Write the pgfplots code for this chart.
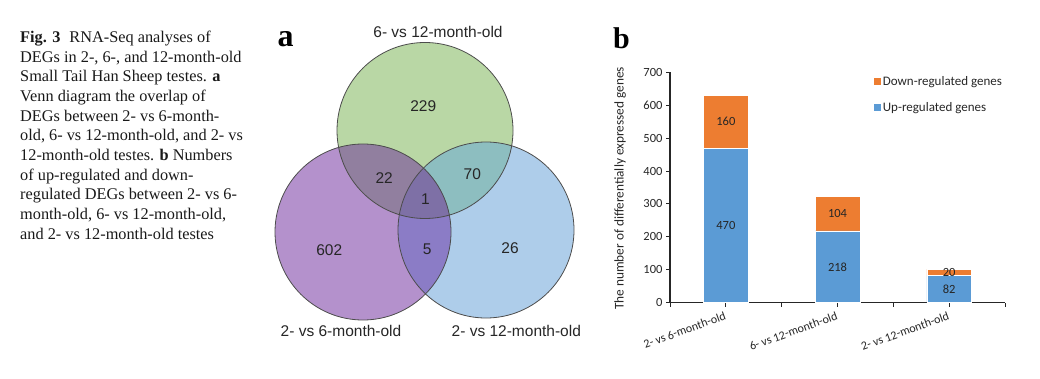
\documentclass[border=0pt]{standalone}
\usepackage{pgfplots}
\pgfplotsset{compat=1.18}
\usepackage{pgfplotstable}
\usepackage{fontspec}
\setmainfont{Liberation Serif}
\newfontfamily\vennfont{Liberation Sans}
\newfontfamily\carl{Carlito}
\definecolor{cP}{HTML}{B491CC}
\definecolor{cG}{HTML}{B9D7A5}
\definecolor{cB}{HTML}{AECDEA}
\definecolor{cPG}{HTML}{917F9F}
\definecolor{cGB}{HTML}{8DBEC0}
\definecolor{cPB}{HTML}{8B7CC6}
\definecolor{cPGB}{HTML}{7E70A6}
\definecolor{cUp}{HTML}{5B9BD5}
\definecolor{cDown}{HTML}{ED7D31}

\pgfplotstableread{
x up down
0 470 160
1 218 104
2 82 20
}\degtable

\begin{document}
\begin{tikzpicture}[x=1pt,y=1pt]
\useasboundingbox (0,0) rectangle (1040,378);
% ---------------- caption ----------------
\begin{scope}[every node/.style={anchor=base west, inner sep=0pt, font=\fontsize{16.3}{19.7}\selectfont, text=black!90}]
\node at (20,335.5) {\textbf{Fig. 3}\hspace{0.55em}RNA-Seq analyses of};
\node at (20,315.85) {DEGs in 2-, 6-, and 12-month-old};
\node at (20,296.2) {Small Tail Han Sheep testes. \textbf{a}};
\node at (20,276.55) {Venn diagram the overlap of};
\node at (20,256.9) {DEGs between 2- vs 6-month-};
\node at (20,237.25) {old, 6- vs 12-month-old, and 2- vs};
\node at (20,217.6) {12-month-old testes. \textbf{b} Numbers};
\node at (20,197.95) {of up-regulated and down-};
\node at (20,178.3) {regulated DEGs between 2- vs 6-};
\node at (20,158.65) {month-old, 6- vs 12-month-old,};
\node at (20,139) {and 2- vs 12-month-old testes};
\end{scope}
% ---------------- panel letters ----------------
\node[anchor=base west, inner sep=0pt, font=\fontsize{32}{36}\selectfont\bfseries] at (277.3,331.3) {a};
\node[anchor=base west, inner sep=0pt, font=\fontsize{30}{34}\selectfont\bfseries] at (613,329.7) {b};
% ---------------- Venn diagram ----------------
\begin{axis}[at={(260pt,0pt)}, anchor=south west, width=340pt, height=378pt, scale only axis,
  xmin=260, xmax=600, ymin=0, ymax=378, hide axis, clip=false]
\fill[cP] (axis cs:363,146) circle[radius=88];
\fill[cG] (axis cs:425,247.5) circle[radius=88];
\fill[cB] (axis cs:486,148) circle[radius=88];
\begin{scope}
\clip (axis cs:425,247.5) circle[radius=88];
\fill[cGB] (axis cs:486,148) circle[radius=88];
\end{scope}
\begin{scope}
\clip (axis cs:363,146) circle[radius=88];
\fill[cPG] (axis cs:425,247.5) circle[radius=88];
\fill[cPB] (axis cs:486,148) circle[radius=88];
\clip (axis cs:425,247.5) circle[radius=88];
\fill[cPGB] (axis cs:486,148) circle[radius=88];
\end{scope}
\draw[black!70, line width=0.8pt] (axis cs:363,146) circle[radius=88];
\draw[black!70, line width=0.8pt] (axis cs:425,247.5) circle[radius=88];
\draw[black!70, line width=0.8pt] (axis cs:486,148) circle[radius=88];
\begin{scope}[every node/.style={font=\vennfont\fontsize{15.5}{18}\selectfont, text=black!85, inner sep=0pt}]
\node at (axis cs:423.2,272.2) {229};
\node at (axis cs:384.2,199.7) {22};
\node at (axis cs:472.3,203.8) {70};
\node at (axis cs:425.5,178.5) {1};
\node at (axis cs:329.3,127.8) {602};
\node at (axis cs:427.2,128.5) {5};
\node at (axis cs:510,129.7) {26};
\node at (axis cs:438,345.7) {6- vs 12-month-old};
\node at (axis cs:341,47) {2- vs 6-month-old};
\node at (axis cs:516.3,47) {2- vs 12-month-old};
\end{scope}
\end{axis}
% ---------------- bar chart ----------------
\begin{axis}[at={(670pt,75.3pt)}, anchor=south west, width=335pt, height=230.4pt, scale only axis,
  /pgf/number format/assume math mode=true,
  ybar stacked, bar width=0.4,
  xmin=-0.5, xmax=2.5, ymin=0, ymax=700,
  ytick={0,100,...,700},
  xtick={0,1,2},
  xticklabels={2- vs 6-month-old, 6- vs 12-month-old, 2- vs 12-month-old},
  minor xtick={-0.5,0.5,1.5,2.5},
  axis lines=left, axis line style={-, black!85, line width=1.1pt},
  tick align=outside, major tick length=4pt, minor tick length=4pt,
  tick style={black!85, line width=1pt},
  yticklabel style={font=\carl\fontsize{12.5}{14}\selectfont, text=black!85},
  xticklabel style={font=\carl\fontsize{12}{14}\selectfont, text=black!85, rotate=20, anchor=north east},
  ylabel={The number of differentially expressed genes},
  every axis y label/.style={at={(-0.149,0.496)}, rotate=90, anchor=center, font=\carl\fontsize{13.3}{15}\selectfont, text=black!85},
  legend image code/.code={\fill[#1, draw=none] (0pt,-3.5pt) rectangle (7pt,3.5pt);},
  reverse legend,
  legend style={at={(0.599,1.002)}, anchor=north west, draw=none, fill=none,
    font=\carl\fontsize{13}{15}\selectfont, text=black!85, row sep=12pt},
  legend cell align=left,
  point meta=explicit,
  nodes near coords={\carl\fontsize{12.5}{14}\selectfont\pgfmathprintnumber[assume math mode=true]{\pgfplotspointmeta}},
  nodes near coords style={text=black!85, anchor=center},
]
\addplot[fill=cUp, draw=white, line width=0.6pt]
  table[x=x, y=up, meta=up]{\degtable};
\addlegendentry{Up-regulated genes}
\addplot[fill=cDown, draw=white, line width=0.6pt]
  table[x=x, y=down, meta=down]{\degtable};
\addlegendentry{Down-regulated genes}
\end{axis}
\end{tikzpicture}
\end{document}
